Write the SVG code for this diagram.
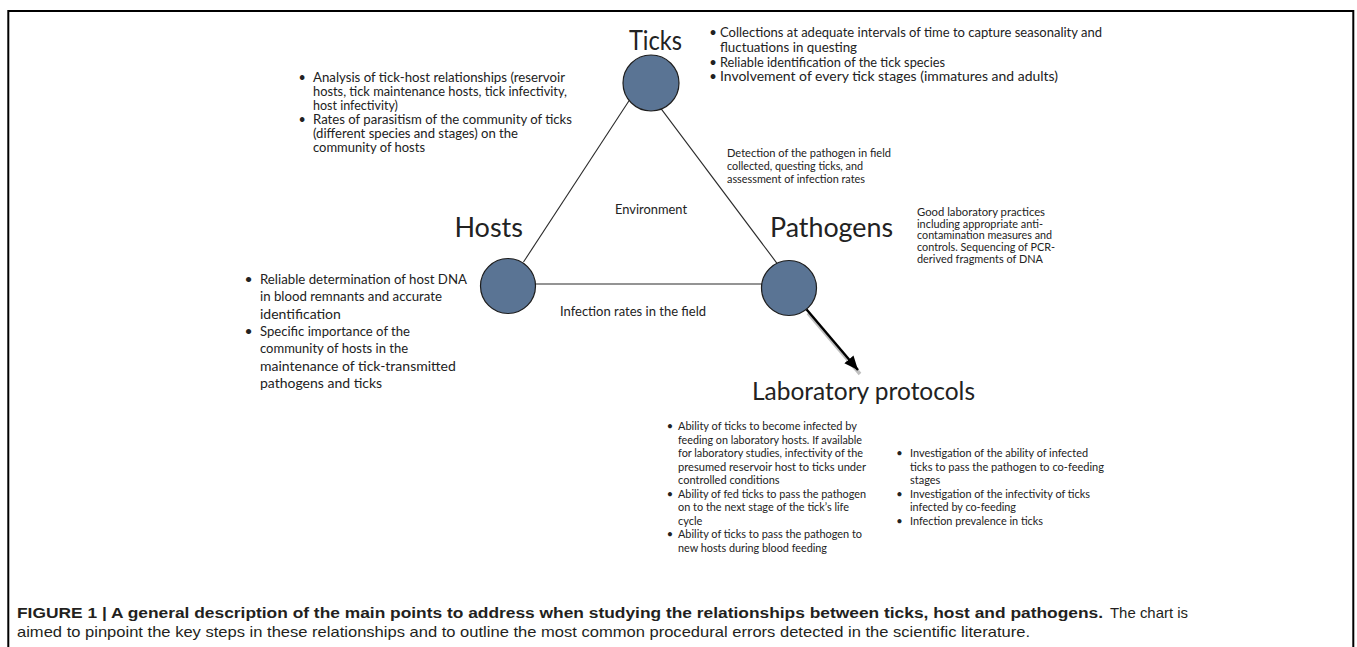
<svg xmlns="http://www.w3.org/2000/svg" width="1357" height="647" viewBox="0 0 1357 647">
<style>
  .t { font-family: Lato, "Open Sans", "Liberation Sans", sans-serif; fill: #222; }
  .head { font-size: 27px; }
  .b { text-anchor: middle; }
  .cap { font-family: "Liberation Sans", Arial, sans-serif; fill: #231f20; font-size: 14.5px; }
  .node { fill: #5a7494; stroke: #1e1e1e; stroke-width: 1.2; }
  .edge { stroke: #2a2a2a; stroke-width: 1.1; fill: none; }
</style>
<defs>
  <marker id="ah" markerUnits="userSpaceOnUse" markerWidth="16" markerHeight="14" refX="14" refY="7" orient="auto">
    <path d="M0,1 L14,7 L0,13 Z" fill="#000"/>
  </marker>
</defs>
<rect width="1357" height="647" fill="#fff"/>
<path d="M8.3,647 V11 H1353.3 V647" fill="none" stroke="#000" stroke-width="2"/>

<g id="connectors">
  <line class="edge" x1="629.5" y1="100" x2="523.5" y2="262"/>
  <line class="edge" x1="661" y1="108.7" x2="777" y2="263.3"/>
  <line class="edge" x1="535" y1="284" x2="762" y2="284"/>
  <line x1="808" y1="313" x2="860" y2="374" stroke="#000" stroke-opacity="0.25" stroke-width="3.5"/>
  <line x1="806.4" y1="309.3" x2="858" y2="370" stroke="#000" stroke-width="2.4" marker-end="url(#ah)"/>
</g>

<g id="node-ticks">
  <circle class="node" cx="651" cy="83" r="28"/>
  <text class="t head" x="629" y="50" textLength="53" lengthAdjust="spacingAndGlyphs">Ticks</text>
</g>
<g id="node-hosts">
  <circle class="node" cx="508" cy="286" r="27.5"/>
  <text class="t head" x="523" y="237" text-anchor="end">Hosts</text>
</g>
<g id="node-pathogens">
  <circle class="node" cx="789" cy="288" r="27.5"/>
  <text class="t head" x="770" y="237" textLength="123" lengthAdjust="spacingAndGlyphs">Pathogens</text>
</g>
<g id="node-lab">
  <text class="t" x="752" y="400" style="font-size:25px" textLength="223" lengthAdjust="spacingAndGlyphs">Laboratory protocols</text>
</g>

<g id="notes-ticks" class="t" style="font-size:13px">
  <text class="t b" x="713" y="37">•</text>
  <text x="720" y="37" textLength="382" lengthAdjust="spacingAndGlyphs">Collections at adequate intervals of time to capture seasonality and</text>
  <text x="720" y="52" textLength="137" lengthAdjust="spacingAndGlyphs">fluctuations in questing</text>
  <text class="t b" x="713" y="67">•</text>
  <text x="720" y="67" textLength="225" lengthAdjust="spacingAndGlyphs">Reliable identification of the tick species</text>
  <text class="t b" x="713" y="81">•</text>
  <text x="720" y="81" textLength="338" lengthAdjust="spacingAndGlyphs">Involvement of every tick stages (immatures and adults)</text>
</g>

<g id="notes-tickhost" class="t" style="font-size:12.5px">
  <text class="t b" x="302" y="82">•</text>
  <text x="313" y="82" textLength="252" lengthAdjust="spacingAndGlyphs">Analysis of tick-host relationships (reservoir</text>
  <text x="313" y="96" textLength="254" lengthAdjust="spacingAndGlyphs">hosts, tick maintenance hosts, tick infectivity,</text>
  <text x="313" y="110">host infectivity)</text>
  <text class="t b" x="302" y="124">•</text>
  <text x="313" y="124" textLength="259" lengthAdjust="spacingAndGlyphs">Rates of parasitism of the community of ticks</text>
  <text x="313" y="138" textLength="205" lengthAdjust="spacingAndGlyphs">(different species and stages) on the</text>
  <text x="313" y="152" textLength="112" lengthAdjust="spacingAndGlyphs">community of hosts</text>
</g>

<g id="notes-detection" class="t" style="font-size:11px">
  <text x="727" y="157" textLength="164" lengthAdjust="spacingAndGlyphs">Detection of the pathogen in field</text>
  <text x="727" y="170" textLength="136" lengthAdjust="spacingAndGlyphs">collected, questing ticks, and</text>
  <text x="727" y="183" textLength="138" lengthAdjust="spacingAndGlyphs">assessment of infection rates</text>
</g>

<text id="environment" class="t" x="615" y="214" style="font-size:13px" textLength="72" lengthAdjust="spacingAndGlyphs">Environment</text>

<g id="notes-goodlab" class="t" style="font-size:10.8px">
  <text x="917" y="216" textLength="128" lengthAdjust="spacingAndGlyphs">Good laboratory practices</text>
  <text x="917" y="227.7" textLength="126" lengthAdjust="spacingAndGlyphs">including appropriate anti-</text>
  <text x="917" y="239.4" textLength="135" lengthAdjust="spacingAndGlyphs">contamination measures and</text>
  <text x="917" y="251" textLength="138" lengthAdjust="spacingAndGlyphs">controls. Sequencing of PCR-</text>
  <text x="917" y="262.7" textLength="126" lengthAdjust="spacingAndGlyphs">derived fragments of DNA</text>
</g>

<g id="notes-hosts" class="t" style="font-size:14px">
  <text class="t b" x="248.5" y="284">•</text>
  <text x="260" y="284" textLength="207" lengthAdjust="spacingAndGlyphs">Reliable determination of host DNA</text>
  <text x="260" y="301" textLength="182" lengthAdjust="spacingAndGlyphs">in blood remnants and accurate</text>
  <text x="260" y="318.5">identification</text>
  <text class="t b" x="248.5" y="336">•</text>
  <text x="260" y="336" textLength="150" lengthAdjust="spacingAndGlyphs">Specific importance of the</text>
  <text x="260" y="353" textLength="148" lengthAdjust="spacingAndGlyphs">community of hosts in the</text>
  <text x="260" y="370.5">maintenance of tick-transmitted</text>
  <text x="260" y="388">pathogens and ticks</text>
</g>

<text id="infection-rates" class="t" x="560" y="316" style="font-size:13px">Infection rates in the field</text>

<g id="notes-lab-left" class="t" style="font-size:11px">
  <text class="t b" x="670" y="430">•</text>
  <text x="678" y="430" textLength="179" lengthAdjust="spacingAndGlyphs">Ability of ticks to become infected by</text>
  <text x="678" y="443.5" textLength="184" lengthAdjust="spacingAndGlyphs">feeding on laboratory hosts. If available</text>
  <text x="678" y="457" textLength="185" lengthAdjust="spacingAndGlyphs">for laboratory studies, infectivity of the</text>
  <text x="678" y="470.5" textLength="188" lengthAdjust="spacingAndGlyphs">presumed reservoir host to ticks under</text>
  <text x="678" y="484">controlled conditions</text>
  <text class="t b" x="670" y="497.5">•</text>
  <text x="678" y="497.5" textLength="188" lengthAdjust="spacingAndGlyphs">Ability of fed ticks to pass the pathogen</text>
  <text x="678" y="511" textLength="171" lengthAdjust="spacingAndGlyphs">on to the next stage of the tick’s life</text>
  <text x="678" y="524.5">cycle</text>
  <text class="t b" x="670" y="538">•</text>
  <text x="678" y="538" textLength="184" lengthAdjust="spacingAndGlyphs">Ability of ticks to pass the pathogen to</text>
  <text x="678" y="551.5" textLength="149" lengthAdjust="spacingAndGlyphs">new hosts during blood feeding</text>
</g>

<g id="notes-lab-right" class="t" style="font-size:11px">
  <text class="t b" x="899.5" y="457">•</text>
  <text x="910" y="457" textLength="178" lengthAdjust="spacingAndGlyphs">Investigation of the ability of infected</text>
  <text x="910" y="470.5" textLength="194" lengthAdjust="spacingAndGlyphs">ticks to pass the pathogen to co-feeding</text>
  <text x="910" y="484">stages</text>
  <text class="t b" x="899.5" y="497.5">•</text>
  <text x="910" y="497.5" textLength="180" lengthAdjust="spacingAndGlyphs">Investigation of the infectivity of ticks</text>
  <text x="910" y="511" textLength="106" lengthAdjust="spacingAndGlyphs">infected by co-feeding</text>
  <text class="t b" x="899.5" y="524.5">•</text>
  <text x="910" y="524.5" textLength="133" lengthAdjust="spacingAndGlyphs">Infection prevalence in ticks</text>
</g>

<g id="caption" class="cap">
  <text x="17" y="618" font-weight="bold" textLength="1086" lengthAdjust="spacingAndGlyphs">FIGURE 1 | A general description of the main points to address when studying the relationships between ticks, host and pathogens.</text>
  <text x="1110" y="618" textLength="78" lengthAdjust="spacingAndGlyphs">The chart is</text>
  <text x="17" y="637" textLength="1013" lengthAdjust="spacingAndGlyphs">aimed to pinpoint the key steps in these relationships and to outline the most common procedural errors detected in the scientific literature.</text>
</g>
</svg>
